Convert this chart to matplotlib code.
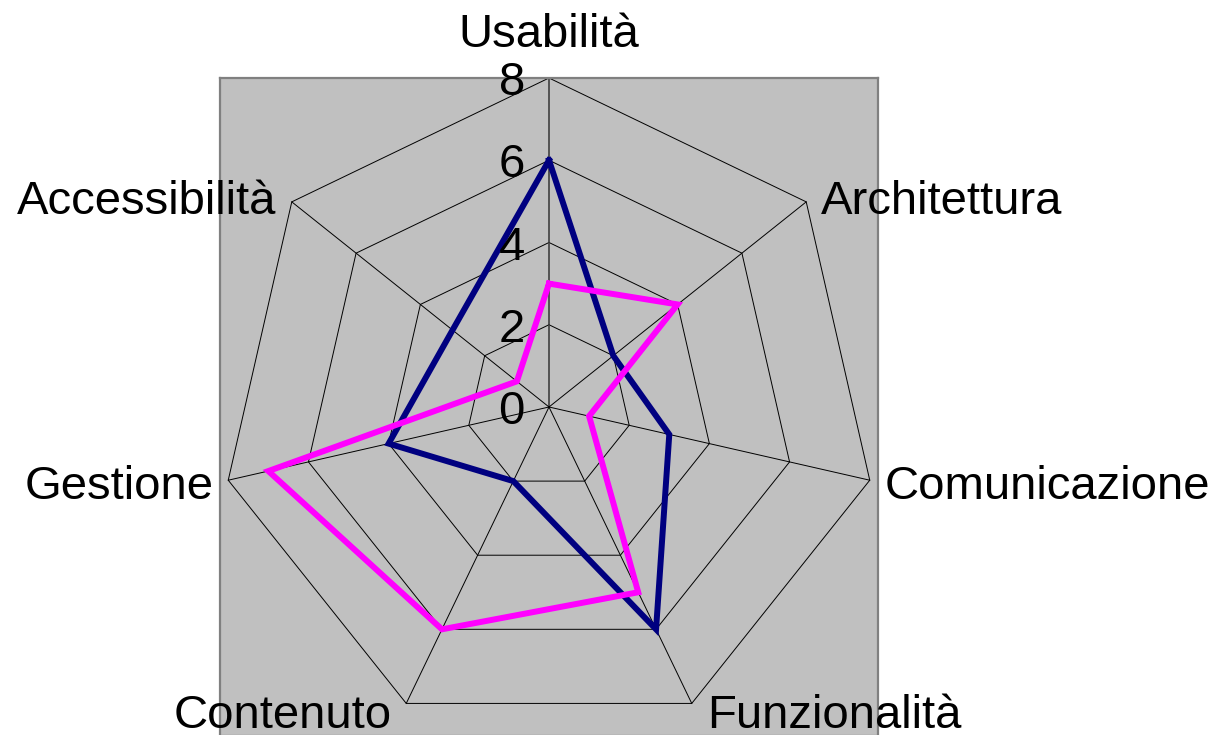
import matplotlib
matplotlib.use('Agg')
import matplotlib.pyplot as plt
import numpy as np

categories = ['Usabilità', 'Architettura', 'Comunicazione', 'Funzionalità',
              'Contenuto', 'Gestione', 'Accessibilità']
series_blue = [6, 2, 3, 6, 2, 4, 3]
series_pink = [3, 4, 1, 5, 6, 7, 1]
ring_values = [2, 4, 6, 8]
tick_labels = ['0', '2', '4', '6', '8']

plt.rcParams['font.family'] = ['Liberation Sans', 'DejaVu Sans']
FS = 34
RMAX = 8

n = len(categories)
theta = np.arange(n) * 2 * np.pi / n   # clockwise from the top


def to_xy(values):
    r = np.asarray(values, dtype=float)
    return r * np.sin(theta), r * np.cos(theta)


def closed(a):
    return np.append(a, a[0])


fig = plt.figure(figsize=(12.15, 7.35), dpi=100)
ax = fig.add_axes([220 / 1215, -1 / 735, 658 / 1215, 658 / 735])
ax.set_facecolor('#C0C0C0')
for s in ax.spines.values():
    s.set_color('#808080')
    s.set_linewidth(1.6)
ax.set_xlim(-RMAX, RMAX)
ax.set_ylim(-RMAX, RMAX)
ax.set_aspect('equal')
ax.set_xticks([])
ax.set_yticks([])

# grid rings and spokes
for rv in ring_values:
    gx, gy = to_xy([rv] * n)
    ax.plot(closed(gx), closed(gy), color='black', lw=0.7, zorder=1)
ox, oy = to_xy([RMAX] * n)
for i in range(n):
    c = '#404040' if i == 0 else 'black'
    w = 1.2 if i == 0 else 0.7
    ax.plot([0, ox[i]], [0, oy[i]], color=c, lw=w, zorder=1)

# data series
for vals, col in [(series_blue, '#000080'), (series_pink, '#FF00FF')]:
    x, y = to_xy(vals)
    ax.plot(closed(x), closed(y), color=col, lw=4.3,
            solid_joinstyle='miter', zorder=3)

# value axis labels
for lab in tick_labels:
    v = float(lab)
    ax.annotate(lab, (0, v), xytext=(-24, -17), textcoords='offset pixels',
                ha='right', va='baseline', fontsize=FS, zorder=5,
                annotation_clip=False)

# category labels
for i, lab in enumerate(categories):
    s, c = np.sin(theta[i]), np.cos(theta[i])
    if abs(s) < 0.1:
        ha, dx, dy = 'center', 0, 31
    else:
        ha = 'left' if s > 0 else 'right'
        dx = 15 if s > 0 else -15
        dy = -(17.3 - 8.5 * c)
    ax.annotate(lab, (ox[i], oy[i]), xytext=(dx, dy),
                textcoords='offset pixels', ha=ha, va='baseline',
                fontsize=FS, annotation_clip=False)

fig.savefig('out.png', dpi=100, facecolor='white')
